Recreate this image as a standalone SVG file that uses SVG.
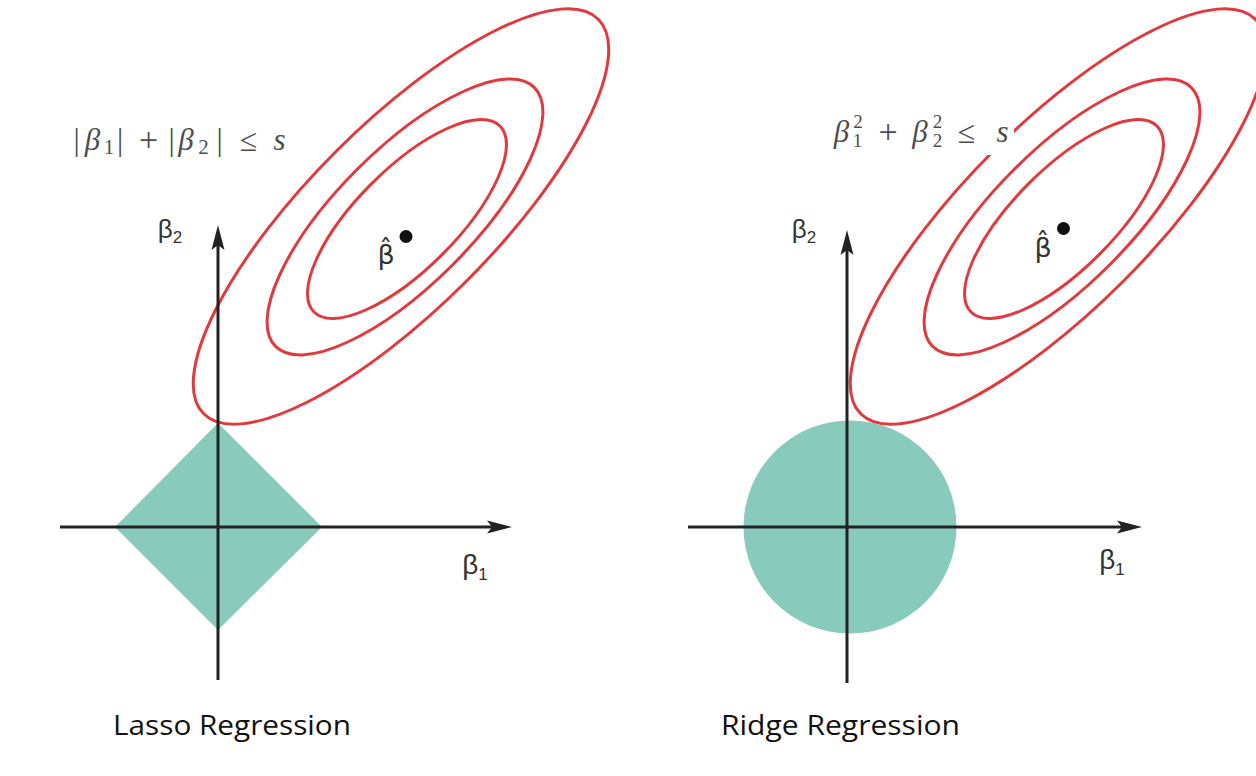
<svg xmlns="http://www.w3.org/2000/svg" width="1256" height="776" viewBox="0 0 1256 776">
<style>
.bg{fill:#ffffff}
.region{fill:#88cabb;stroke:none}
.contour{fill:none;stroke:#e0393e;stroke-width:3}
.axis{stroke:#222222;stroke-width:3;fill:none;marker-end:url(#arrow)}
.lbl{font-family:"Liberation Sans","DejaVu Sans",sans-serif;fill:#333333;text-anchor:middle}
.hat{font-family:"DejaVu Sans",sans-serif;fill:#333333;text-anchor:middle}
.math{font-family:"Liberation Serif","DejaVu Serif",serif;fill:#4d4d4d;text-anchor:middle}
.it{font-style:italic}
.cap{font-family:"Open Sans","Liberation Sans",sans-serif;font-size:27px;fill:#111111}
</style>
<defs>
<marker id="arrow" viewBox="-28 -8 30 16" refX="-14" refY="0" markerWidth="30" markerHeight="16" markerUnits="userSpaceOnUse" orient="auto">
<path d="M0,0 L-25,-6.5 L-20,0 L-25,6.5 Z" fill="#222222"/>
</marker>
</defs>
<rect class="bg" x="0" y="0" width="1256" height="776"/>

<g id="lasso-panel">
  <g id="lasso-region"><polygon class="region" points="218,423 322,527 218,630 115,527"/></g>
  <g id="lasso-contours">
    <ellipse class="contour" cx="401" cy="216.5" rx="279" ry="92" transform="rotate(-45 401 216.5)"/>
    <ellipse class="contour" cx="405" cy="217" rx="183" ry="67.5" transform="rotate(-45 405 217)"/>
    <ellipse class="contour" cx="407" cy="219" rx="131.5" ry="50" transform="rotate(-45 407 219)"/>
  </g>
  <g id="lasso-betahat">
    <circle cx="406" cy="236.5" r="6.5" fill="#111111"/>
    <text class="hat" x="386" y="264" font-size="27">β̂</text>
  </g>
  <g id="lasso-formula">
    <text class="math" x="76.5" y="150" font-size="31">|</text>
    <text class="math it" x="92.5" y="150" font-size="31">β</text>
    <text class="math" x="109" y="154" font-size="21">1</text>
    <text class="math" x="120" y="150" font-size="31">|</text>
    <text class="math" x="148.5" y="151" font-size="34">+</text>
    <text class="math" x="171.5" y="150" font-size="31">|</text>
    <text class="math it" x="186" y="150" font-size="31">β</text>
    <text class="math" x="203.5" y="154" font-size="21">2</text>
    <text class="math" x="219.5" y="150" font-size="31">|</text>
    <text class="math" x="248.5" y="151" font-size="32">≤</text>
    <text class="math it" x="279.5" y="150" font-size="31">s</text>
  </g>
  <g id="lasso-labels">
    <text class="lbl" x="170" y="237.5" font-size="26">β<tspan dy="5.5" font-size="17">2</tspan></text>
    <text class="lbl" x="475" y="574" font-size="28">β<tspan dy="6" font-size="17">1</tspan></text>
  </g>
  <text id="lasso-caption" class="cap" x="113" y="735" textLength="238" lengthAdjust="spacingAndGlyphs">Lasso Regression</text>
</g>

<g id="ridge-panel">
  <g id="ridge-region"><circle class="region" cx="850" cy="527" r="106.5"/></g>
  <g id="ridge-contours">
    <ellipse class="contour" cx="1058" cy="216.5" rx="279" ry="92" transform="rotate(-45 1058 216.5)"/>
    <ellipse class="contour" cx="1062" cy="217" rx="183" ry="67.5" transform="rotate(-45 1062 217)"/>
    <ellipse class="contour" cx="1064" cy="219" rx="131.5" ry="50" transform="rotate(-45 1064 219)"/>
  </g>
  <g id="ridge-betahat">
    <circle cx="1063.5" cy="228.5" r="6.5" fill="#111111"/>
    <text class="hat" x="1043" y="257" font-size="27">β̂</text>
  </g>
  <g id="ridge-formula">
    <rect x="822" y="100" width="192" height="55" fill="#ffffff"/>
    <text class="math it" x="841.5" y="142" font-size="31">β</text>
    <text class="math" x="858" y="128" font-size="19">2</text>
    <text class="math" x="857.5" y="147" font-size="19">1</text>
    <text class="math" x="888" y="143" font-size="34">+</text>
    <text class="math it" x="920" y="142" font-size="31">β</text>
    <text class="math" x="937.5" y="128" font-size="19">2</text>
    <text class="math" x="937.5" y="147" font-size="19">2</text>
    <text class="math" x="966.5" y="143" font-size="32">≤</text>
    <text class="math it" x="1002.5" y="142" font-size="31">s</text>
  </g>
  <g id="ridge-labels">
    <text class="lbl" x="804" y="237.5" font-size="26">β<tspan dy="5.5" font-size="17">2</tspan></text>
    <text class="lbl" x="1112" y="569" font-size="28">β<tspan dy="6" font-size="17">1</tspan></text>
  </g>
  <text id="ridge-caption" class="cap" x="721" y="735" textLength="239" lengthAdjust="spacingAndGlyphs">Ridge Regression</text>
</g>

<g id="connectors">
  <line class="axis" x1="60" y1="527" x2="498" y2="527"/>
  <line class="axis" x1="218" y1="680" x2="218" y2="239"/>
  <line class="axis" x1="688" y1="527" x2="1128" y2="527"/>
  <line class="axis" x1="847" y1="683" x2="847" y2="244"/>
</g>
</svg>
